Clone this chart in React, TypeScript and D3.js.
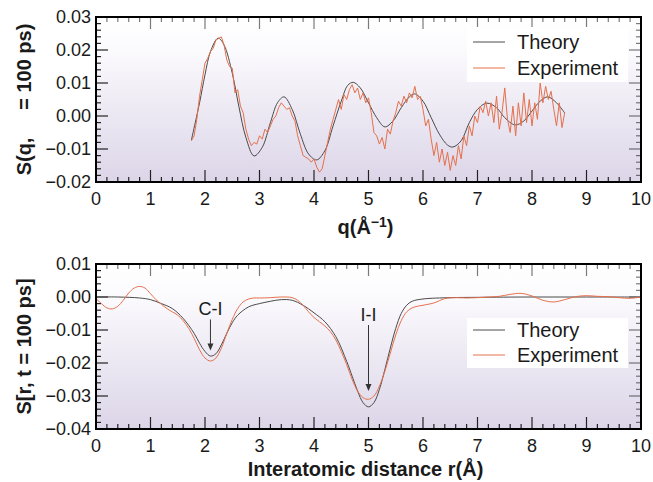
import React from "react";
import * as d3 from "d3";

// ---------- DATA ----------
const topTheory: [number, number][] = [
  [1.75, -0.0073], [1.9, 0.004], [2.0, 0.0125], [2.1, 0.0195], [2.24, 0.0236], [2.35, 0.0215],
  [2.5, 0.013], [2.62, 0.003], [2.75, -0.0065], [2.9, -0.0121], [3.05, -0.0095], [3.2, -0.002],
  [3.33, 0.004], [3.45, 0.0058], [3.6, 0.002], [3.75, -0.0055], [3.9, -0.0115], [4.05, -0.0133],
  [4.2, -0.0105], [4.35, -0.003], [4.5, 0.0045], [4.62, 0.0093], [4.72, 0.0102], [4.85, 0.0085],
  [5.0, 0.004], [5.15, -0.0005], [5.3, -0.0033], [5.45, -0.0015], [5.6, 0.0025], [5.75, 0.0058],
  [5.85, 0.0067], [6.0, 0.0045], [6.15, -0.0005], [6.3, -0.0055], [6.45, -0.0088], [6.55, -0.0094],
  [6.7, -0.0075], [6.85, -0.002], [7.0, 0.002], [7.17, 0.0039], [7.35, 0.0025], [7.5, -0.0005],
  [7.69, -0.0027], [7.85, -0.0015], [8.0, 0.0015], [8.15, 0.0045], [8.29, 0.0058], [8.45, 0.004],
  [8.6, 0.0009],
];

const topExperiment: [number, number][] = [
  [1.75, -0.0075], [1.8, -0.006], [1.85, -0.001], [1.9, 0.006], [1.95, 0.011], [2.0, 0.016],
  [2.05, 0.0175], [2.1, 0.0195], [2.15, 0.0205], [2.2, 0.023], [2.25, 0.0235], [2.3, 0.024],
  [2.35, 0.0215], [2.4, 0.017], [2.45, 0.015], [2.5, 0.0145], [2.55, 0.007], [2.6, 0.008],
  [2.65, 0.003], [2.7, 0.001], [2.75, -0.004], [2.8, -0.007], [2.85, -0.009], [2.9, -0.008],
  [2.95, -0.0085], [3.0, -0.006], [3.05, -0.007], [3.1, -0.004], [3.15, -0.005], [3.2, -0.003],
  [3.25, -0.001], [3.3, 0.0], [3.35, 0.0025], [3.4, 0.004], [3.45, 0.003], [3.5, 0.002],
  [3.55, 0.0025], [3.6, 0.0], [3.65, -0.0015], [3.7, -0.006], [3.75, -0.009], [3.8, -0.012],
  [3.85, -0.0125], [3.9, -0.013], [3.95, -0.014], [4.0, -0.013], [4.05, -0.0155], [4.1, -0.017],
  [4.15, -0.016], [4.2, -0.012], [4.25, -0.008], [4.3, -0.004], [4.35, -0.001], [4.4, 0.002],
  [4.45, 0.005], [4.5, 0.002], [4.55, 0.0065], [4.6, 0.005], [4.65, 0.008], [4.7, 0.0095],
  [4.75, 0.007], [4.8, 0.0085], [4.85, 0.005], [4.9, 0.007], [4.95, 0.004], [5.0, 0.0055],
  [5.05, 0.001], [5.1, -0.005], [5.15, -0.006], [5.2, -0.0085], [5.25, -0.0065], [5.3, -0.01],
  [5.35, -0.004], [5.4, -0.0055], [5.45, -0.0015], [5.5, 0.001], [5.55, 0.0045], [5.6, 0.003],
  [5.65, 0.006], [5.7, 0.004], [5.75, 0.007], [5.8, 0.0055], [5.85, 0.009], [5.9, 0.005],
  [5.95, 0.006], [6.0, 0.002], [6.05, -0.003], [6.1, -0.001], [6.15, -0.007], [6.2, -0.012],
  [6.25, -0.008], [6.3, -0.014], [6.35, -0.01], [6.4, -0.015], [6.45, -0.011], [6.5, -0.0165],
  [6.55, -0.012], [6.6, -0.015], [6.65, -0.009], [6.7, -0.013], [6.75, -0.006], [6.8, -0.009],
  [6.85, -0.003], [6.9, -0.006], [6.95, 0.0], [7.0, -0.002], [7.05, 0.003], [7.1, 0.001],
  [7.15, 0.0045], [7.2, 0.0], [7.25, 0.004], [7.3, -0.002], [7.35, 0.006], [7.4, -0.004],
  [7.45, 0.001], [7.5, 0.0085], [7.55, -0.001], [7.6, -0.005], [7.65, 0.003], [7.7, -0.006],
  [7.75, 0.004], [7.8, -0.003], [7.85, 0.007], [7.9, -0.002], [7.95, 0.005], [8.0, -0.003],
  [8.05, 0.004], [8.1, -0.001], [8.15, 0.01], [8.2, 0.004], [8.25, 0.009], [8.3, 0.005],
  [8.35, 0.0075], [8.4, 0.002], [8.45, -0.003], [8.5, 0.004], [8.55, -0.0035], [8.6, 0.001],
];

const botTheory: [number, number][] = [
  [0.0, 0.0], [0.4, 0.0], [0.8, -0.0003], [1.0, -0.0008], [1.2, -0.002], [1.4, -0.0035],
  [1.6, -0.0065], [1.8, -0.011], [1.9, -0.014], [2.0, -0.0165], [2.1, -0.0179], [2.2, -0.0172],
  [2.3, -0.0145], [2.4, -0.011], [2.5, -0.0078], [2.6, -0.0055], [2.8, -0.003], [3.0, -0.002],
  [3.2, -0.0013], [3.4, -0.0008], [3.6, -0.001], [3.8, -0.0025], [4.0, -0.0048], [4.2, -0.0075],
  [4.4, -0.012], [4.6, -0.0195], [4.7, -0.024], [4.8, -0.0285], [4.9, -0.032], [5.0, -0.0333],
  [5.1, -0.032], [5.2, -0.028], [5.3, -0.022], [5.4, -0.0155], [5.5, -0.0095], [5.6, -0.005],
  [5.7, -0.0025], [5.8, -0.0013], [6.0, -0.0006], [6.5, -0.0002], [7.0, -0.0001], [8.0, 0.0],
  [9.0, 0.0], [10.0, 0.0],
];

const botExperiment: [number, number][] = [
  [0.0, -0.0005], [0.1, -0.002], [0.2, -0.0033], [0.3, -0.0036], [0.4, -0.0028], [0.5, -0.001],
  [0.6, 0.0012], [0.7, 0.0027], [0.8, 0.0032], [0.9, 0.0027], [1.0, 0.001], [1.1, -0.0008],
  [1.2, -0.0022], [1.3, -0.0035], [1.4, -0.0045], [1.5, -0.0055], [1.6, -0.0072], [1.7, -0.0095],
  [1.8, -0.0125], [1.9, -0.016], [2.0, -0.0185], [2.1, -0.0194], [2.2, -0.0185], [2.3, -0.0155],
  [2.4, -0.011], [2.5, -0.0068], [2.6, -0.0035], [2.7, -0.0015], [2.8, -0.0006], [2.9, -0.0003],
  [3.0, -0.0003], [3.2, -0.0002], [3.4, 0.0], [3.6, -0.0002], [3.7, -0.001], [3.8, -0.0025],
  [3.9, -0.0045], [4.0, -0.0062], [4.1, -0.0075], [4.2, -0.0088], [4.3, -0.0105], [4.4, -0.013],
  [4.5, -0.0165], [4.6, -0.0205], [4.7, -0.025], [4.8, -0.0285], [4.9, -0.0305], [5.0, -0.031],
  [5.1, -0.03], [5.2, -0.027], [5.3, -0.0225], [5.4, -0.017], [5.5, -0.0115], [5.6, -0.0072],
  [5.7, -0.0045], [5.8, -0.0033], [5.9, -0.0028], [6.0, -0.0025], [6.2, -0.0018], [6.4, -0.0005],
  [6.6, -0.0002], [6.8, -0.0003], [7.0, -0.0002], [7.2, 0.0], [7.4, 0.0002], [7.6, 0.0008],
  [7.8, 0.0011], [8.0, 0.0003], [8.2, -0.001], [8.4, -0.0015], [8.6, -0.0008], [8.8, 0.0001],
  [9.0, 0.0004], [9.2, 0.0002], [9.4, 0.0001], [9.6, -0.0002], [9.8, -0.0004], [10.0, 0.0],
];

const xTicks = [0, 1, 2, 3, 4, 5, 6, 7, 8, 9, 10];
const topYTicks = [0.03, 0.02, 0.01, 0.0, -0.01, -0.02];
const botYTicks = [0.01, 0.0, -0.01, -0.02, -0.03, -0.04];
const seriesNames = ["Theory", "Experiment"];
const annotations = [
  { label: "C-I", r: 2.1, from: -0.0068, to: -0.0162 },
  { label: "I-I", r: 5.0, from: -0.0085, to: -0.0285 },
];

// ---------- STYLE ----------
const W = 653;
const H = 482;
const FONT = "'Liberation Sans', Arial, Helvetica, sans-serif";
const THEORY_COLOR = "#4a4a4a";
const EXP_COLOR = "#e6704c";
const TEXT = "#1a1a1a";

type PanelProps = {
  id: string;
  top: number;
  bottom: number;
  yDomain: [number, number];
  yTicks: number[];
  theory: [number, number][];
  experiment: [number, number][];
  expCurve: d3.CurveFactory;
  yTitle: string;
  xTitle: React.ReactNode;
  xTitleY: number;
  legend: { x: number; y: number; w: number; h: number; l1: number; l2: number };
  annotate?: boolean;
};

const fmt = (v: number) => {
  const s = Math.abs(v).toFixed(2);
  return v < 0 ? "\u2212" + s : s;
};

function Panel(p: PanelProps) {
  const left = 96;
  const right = 641;
  const x = d3.scaleLinear().domain([0, 10]).range([left, right]);
  const y = d3.scaleLinear().domain(p.yDomain).range([p.bottom, p.top]);

  const theoryLine = d3
    .line<[number, number]>()
    .x((d) => x(d[0]))
    .y((d) => y(d[1]))
    .curve(d3.curveCatmullRom.alpha(0.5));
  const expLine = d3
    .line<[number, number]>()
    .x((d) => x(d[0]))
    .y((d) => y(d[1]))
    .curve(p.expCurve);

  const minorX = d3.range(0, 10.0001, 0.2).filter((v) => Math.abs(v - Math.round(v)) > 1e-6);
  const [y0, y1] = p.yDomain;
  const step = (y1 - y0) / 25;
  const minorY = d3.range(0, 26).map((i) => y0 + i * step).filter((_, i) => i % 5 !== 0);

  const majorLen = 12;
  const minorLen = 5;

  return (
    <g>
      <defs>
        <linearGradient id={p.id + "-bg"} x1="0" y1="0" x2="0" y2="1">
          <stop offset="0" stopColor="#ffffff" />
          <stop offset="0.2" stopColor="#fbfafd" />
          <stop offset="1" stopColor="#dcd5e8" />
        </linearGradient>
        <clipPath id={p.id + "-clip"}>
          <rect x={left} y={p.top} width={right - left} height={p.bottom - p.top} />
        </clipPath>
      </defs>
      <rect x={left} y={p.top} width={right - left} height={p.bottom - p.top} fill={`url(#${p.id}-bg)`} />

      {/* ticks */}
      <g stroke="#222" strokeWidth={1.2}>
        {xTicks.map((t) => (
          <g key={"xm" + t}>
            <line x1={x(t)} x2={x(t)} y1={p.bottom} y2={p.bottom - majorLen} />
            <line x1={x(t)} x2={x(t)} y1={p.top} y2={p.top + majorLen} strokeOpacity={0.6} />
          </g>
        ))}
        {minorX.map((t) => (
          <g key={"xn" + t}>
            <line x1={x(t)} x2={x(t)} y1={p.bottom} y2={p.bottom - minorLen} />
            <line x1={x(t)} x2={x(t)} y1={p.top} y2={p.top + minorLen} strokeOpacity={0.6} />
          </g>
        ))}
        {p.yTicks.map((t) => (
          <g key={"ym" + t}>
            <line x1={left} x2={left + majorLen} y1={y(t)} y2={y(t)} />
            <line x1={right} x2={right - majorLen} y1={y(t)} y2={y(t)} strokeOpacity={0.6} />
          </g>
        ))}
        {minorY.map((t, i) => (
          <g key={"yn" + i}>
            <line x1={left} x2={left + minorLen} y1={y(t)} y2={y(t)} />
            <line x1={right} x2={right - minorLen} y1={y(t)} y2={y(t)} strokeOpacity={0.6} />
          </g>
        ))}
      </g>

      {/* legend */}
      <rect x={p.legend.x} y={p.legend.y} width={p.legend.w} height={p.legend.h} fill="#ffffff" />

      <g clipPath={`url(#${p.id}-clip)`}>
        <path d={theoryLine(p.theory) || ""} fill="none" stroke={THEORY_COLOR} strokeWidth={1} />
        <path d={expLine(p.experiment) || ""} fill="none" stroke={EXP_COLOR} strokeWidth={1} />
      </g>

      {[p.legend.l1, p.legend.l2].map((ly, i) => (
        <g key={"lg" + i}>
          <line
            x1={p.legend.x + 6}
            x2={p.legend.x + 38}
            y1={ly}
            y2={ly}
            stroke={i === 0 ? THEORY_COLOR : EXP_COLOR}
            strokeWidth={1}
          />
          <text x={p.legend.x + 50} y={ly} dy="0.36em" fontSize={20} fill={TEXT} fontFamily={FONT}>
            {seriesNames[i]}
          </text>
        </g>
      ))}

      {p.annotate &&
        annotations.map((a) => (
          <g key={a.label}>
            <text
              x={x(a.r)}
              y={y(a.from) - 4}
              textAnchor="middle"
              fontSize={18}
              fill={TEXT}
              fontFamily={FONT}
            >
              {a.label}
            </text>
            <line x1={x(a.r)} x2={x(a.r)} y1={y(a.from)} y2={y(a.to) - 4} stroke="#333" strokeWidth={1} />
            <path
              d={`M${x(a.r) - 3},${y(a.to) - 7} L${x(a.r) + 3},${y(a.to) - 7} L${x(a.r)},${y(a.to)} Z`}
              fill="#333"
            />
          </g>
        ))}

      {/* frame */}
      <rect
        x={left}
        y={p.top}
        width={right - left}
        height={p.bottom - p.top}
        fill="none"
        stroke="#000"
        strokeWidth={2}
      />

      {/* tick labels */}
      {xTicks.map((t) => (
        <text
          key={"xl" + t}
          x={x(t)}
          y={p.bottom + 23}
          textAnchor="middle"
          fontSize={18}
          fill={TEXT}
          fontFamily={FONT}
        >
          {t}
        </text>
      ))}
      {p.yTicks.map((t) => (
        <text
          key={"yl" + t}
          x={91}
          y={y(t)}
          dy="0.36em"
          textAnchor="end"
          fontSize={18}
          fill={TEXT}
          fontFamily={FONT}
        >
          {fmt(t)}
        </text>
      ))}

      {/* titles */}
      <text
        transform={`translate(31,${(p.top + p.bottom) / 2}) rotate(-90)`}
        textAnchor="middle"
        fontSize={20}
        fontWeight="bold"
        fill={TEXT}
        fontFamily={FONT}
        style={{ whiteSpace: "pre" }}
      >
        {p.yTitle}
      </text>
      <text
        x={(left + right) / 2 - 3}
        y={p.xTitleY}
        textAnchor="middle"
        fontSize={20}
        fontWeight="bold"
        fill={TEXT}
        fontFamily={FONT}
      >
        {p.xTitle}
      </text>
    </g>
  );
}

export default function App() {
  return (
    <svg
      width={W}
      height={H}
      viewBox={`0 0 ${W} ${H}`}
      style={{ position: "absolute", left: 0, top: 0, display: "block", background: "#fff" }}
    >
      <Panel
        id="top"
        top={17}
        bottom={182}
        yDomain={[-0.02, 0.03]}
        yTicks={topYTicks}
        theory={topTheory}
        experiment={topExperiment}
        expCurve={d3.curveLinear}
        yTitle={"S(q,     = 100 ps)"}
        xTitle={
          <>
            q(Å
            <tspan dy={-7} fontSize={14}>
              −1
            </tspan>
            <tspan dy={7}>)</tspan>
          </>
        }
        xTitleY={234}
        legend={{ x: 467, y: 27, w: 161, h: 55, l1: 42, l2: 68 }}
      />
      <Panel
        id="bot"
        top={264}
        bottom={429}
        yDomain={[-0.04, 0.01]}
        yTicks={botYTicks}
        theory={botTheory}
        experiment={botExperiment}
        expCurve={d3.curveCatmullRom.alpha(0.5)}
        yTitle={"S[r, t = 100 ps]"}
        xTitle={"Interatomic distance r(Å)"}
        xTitleY={476}
        legend={{ x: 467, y: 318, w: 161, h: 50, l1: 330, l2: 355 }}
        annotate
      />
    </svg>
  );
}
